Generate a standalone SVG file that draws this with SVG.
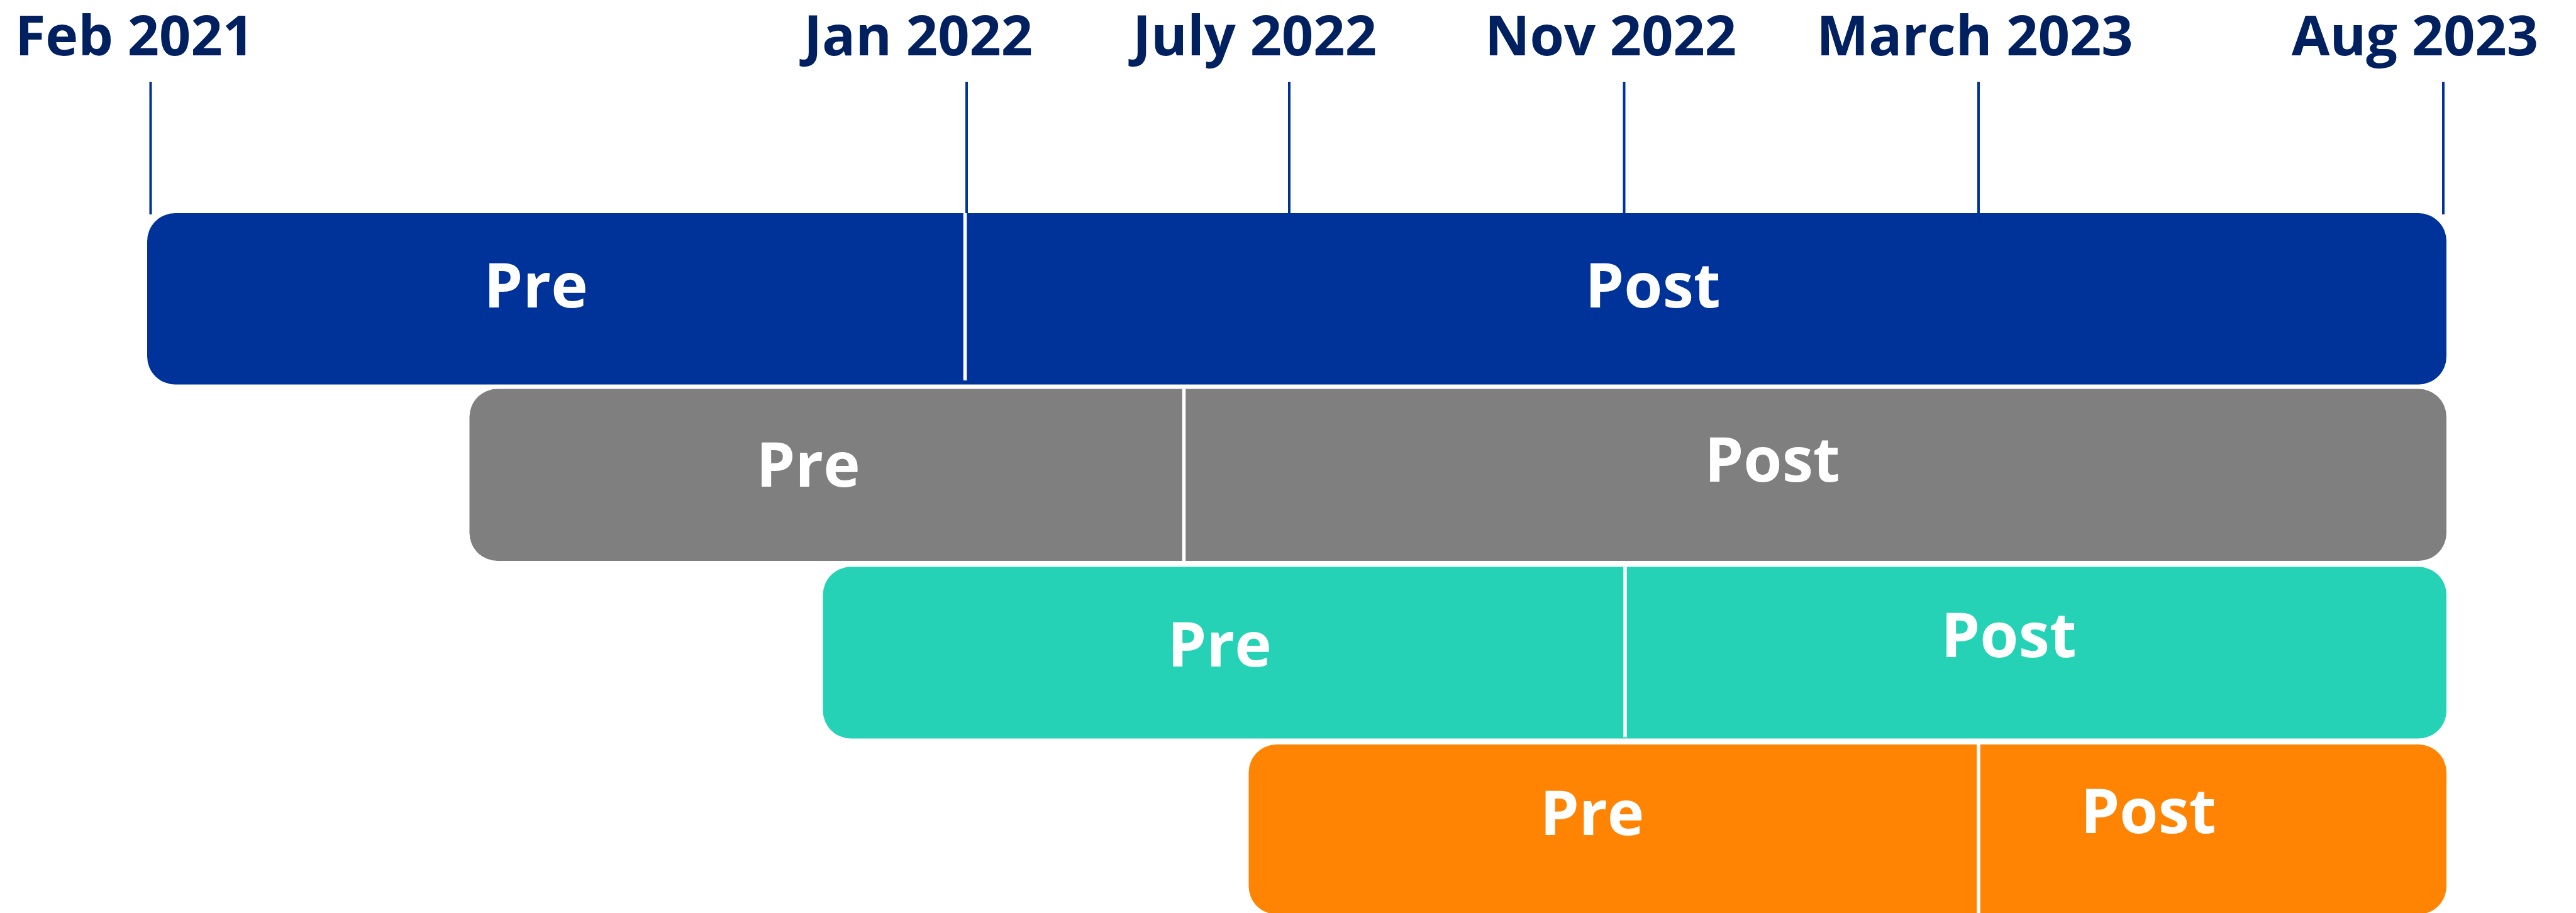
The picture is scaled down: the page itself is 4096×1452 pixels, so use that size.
<svg xmlns="http://www.w3.org/2000/svg" width="4096" height="1452" viewBox="0 0 4096 1452">
  <style>
    .date { font-family: "Open Sans", "Noto Sans", "Liberation Sans", sans-serif; font-weight: 700; font-size: 88px; fill: #002060; text-anchor: middle; }
    .tick { stroke: #003399; stroke-width: 4; fill: none; }
    .lbl { font-family: "Open Sans", "Noto Sans", "Liberation Sans", sans-serif; font-weight: 700; font-size: 99px; fill: #ffffff; text-anchor: middle; }
    .split { stroke: #ffffff; stroke-width: 5.5; }
    .blue { fill: #003399; }
    .gray { fill: #7f7f7f; }
    .teal { fill: #25d2b6; }
    .orange { fill: #ff8404; }
  </style>
  <rect width="4096" height="1452" fill="#ffffff"/>

  <!-- date axis: milestone labels -->
  <g id="dates">
    <text class="date" x="214" y="88">Feb 2021</text>
    <text class="date" x="1460" y="88">Jan 2022</text>
    <text class="date" x="1995" y="88">July 2022</text>
    <text class="date" x="2561" y="88">Nov 2022</text>
    <text class="date" x="3140" y="88">March 2023</text>
    <text class="date" x="3840" y="88">Aug 2023</text>
  </g>

  <!-- tick marks dropping from each milestone to the first bar -->
  <g id="connectors">
    <line class="tick" x1="239.5" y1="130" x2="239.5" y2="341"/>
    <line class="tick" x1="1537" y1="130" x2="1537" y2="341"/>
    <line class="tick" x1="2050" y1="130" x2="2050" y2="341"/>
    <line class="tick" x1="2582.5" y1="130" x2="2582.5" y2="341"/>
    <line class="tick" x1="3146" y1="130" x2="3146" y2="341"/>
    <line class="tick" x1="3885" y1="130" x2="3885" y2="341"/>
  </g>

  <!-- cohort 1: Feb 2021 to Aug 2023, split at Jan 2022 -->
  <g id="bar-blue">
    <rect class="blue" x="234" y="339" width="3656" height="272.5" rx="44.5" ry="44.5"/>
    <line class="split" x1="1534.5" y1="339" x2="1534.5" y2="605"/>
    <text class="lbl" x="852" y="489">Pre</text>
    <text class="lbl" x="2628" y="489">Post</text>
  </g>

  <!-- cohort 2: split at July 2022 -->
  <g id="bar-gray">
    <rect class="gray" x="746.5" y="618.5" width="3143.5" height="273.5" rx="44.5" ry="44.5"/>
    <line class="split" x1="1882.5" y1="618.5" x2="1882.5" y2="892"/>
    <text class="lbl" x="1285" y="774">Pre</text>
    <text class="lbl" x="2818" y="766">Post</text>
  </g>

  <!-- cohort 3: split at Nov 2022 -->
  <g id="bar-teal">
    <rect class="teal" x="1308.5" y="901.5" width="2581.5" height="273" rx="44.5" ry="44.5"/>
    <line class="split" x1="2584" y1="901.5" x2="2584" y2="1172.5"/>
    <text class="lbl" x="1939" y="1059.5">Pre</text>
    <text class="lbl" x="3194" y="1045">Post</text>
  </g>

  <!-- cohort 4: split at March 2023 -->
  <g id="bar-orange">
    <rect class="orange" x="1985.5" y="1184" width="1904.5" height="270" rx="44.5" ry="44.5"/>
    <line class="split" x1="3146" y1="1184" x2="3146" y2="1452"/>
    <text class="lbl" x="2531.5" y="1327.5">Pre</text>
    <text class="lbl" x="3416" y="1325">Post</text>
  </g>
</svg>
